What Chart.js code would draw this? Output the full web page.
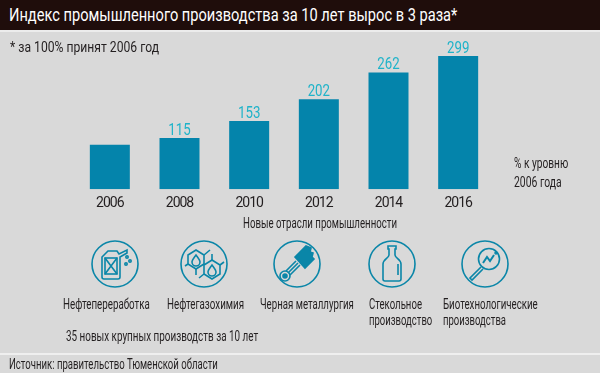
<!DOCTYPE html>
<html lang="ru">
<head>
<meta charset="utf-8">
<title>Индекс промышленного производства</title>
<script src="https://cdn.jsdelivr.net/npm/chart.js@4"></script>
<style>
html, body { margin: 0; padding: 0; }
body { position: relative; width: 600px; height: 373px; overflow: hidden; background: #d9d9d9;
       font-family: "Roboto", sans-serif; color: #231f20; }
canvas { position: absolute; left: 0; top: 0; }
.t { position: absolute; white-space: nowrap; font-size: 14.5px; line-height: 16px; transform-origin: 0 50%; }
#head { position: absolute; left: 0; top: 0; width: 600px; height: 30px; background: #1f0d0b; }
#head-line { position: absolute; left: 0; top: 30px; width: 600px; height: 2px; background: #ececec; }
#foot-line { position: absolute; left: 0; top: 353px; width: 600px; height: 2px; background: #efefef; }
#title { left: 9px; top: 5px; font-size: 18.5px; line-height: 20px; color: #fff; }
svg { position: absolute; top: 240px; width: 48px; height: 48px; fill: none; stroke: #0a86a8; stroke-width: 1.6; }
</style>
</head>
<body>
<canvas id="chart" width="600" height="373"></canvas>
<div id="head"></div>
<div id="head-line"></div>
<div id="foot-line"></div>
<div class="t" id="title" data-w="448">Индекс промышленного производства за 10 лет вырос в 3 раза*</div>
<div class="t" data-w="149" style="left:10px;top:39px;font-size:15.5px">* за 100% принят 2006 год</div>
<div class="t" data-w="54" style="left:514px;top:156px">% к уровню</div>
<div class="t" data-w="48" style="left:514px;top:175px">2006 года</div>
<div class="t" data-w="154" style="left:243px;top:216px">Новые отрасли промышленности</div>
<div class="t" data-w="87" style="left:63px;top:297px">Нефтепереработка</div>
<div class="t" data-w="77" style="left:167px;top:297px">Нефтегазохимия</div>
<div class="t" data-w="94" style="left:260px;top:297px">Черная металлургия</div>
<div class="t" data-w="53" style="left:369px;top:297px">Стекольное</div>
<div class="t" data-w="63" style="left:369px;top:313px">производство</div>
<div class="t" data-w="95" style="left:443px;top:297px">Биотехнологические</div>
<div class="t" data-w="63" style="left:443px;top:313px">производства</div>
<div class="t" data-w="192" style="left:66px;top:328px;font-size:15.5px">35 новых крупных производств за 10 лет</div>
<div class="t" data-w="209" style="left:9px;top:357px">Источник: правительство Тюменской области</div>

<svg style="left:91px" viewBox="0 0 48 48">
  <circle cx="24" cy="24" r="23"/>
  <path d="M11 17l6-6h9l2 3 8-4v3l-7 4v20a2 2 0 0 1-2 2H13a2 2 0 0 1-2-2z"/>
  <rect x="14" y="18" width="12" height="16"/>
  <path d="M14 18l12 16M26 18L14 34"/>
  <circle cx="36" cy="17" r="1.2"/><circle cx="39" cy="21" r="1.2"/><circle cx="35" cy="24" r="1.2"/>
</svg>
<svg style="left:180px" viewBox="0 0 48 48">
  <circle cx="24" cy="24" r="23"/>
  <path d="M16 10l8 5v9l-8 5-8-5v-9zM32 20l8 5v9l-8 5-8-5v-9z"/>
  <path d="M24 15l6-5M32 20v-6M40 25l4-3M8 24l-3 2M16 29v6M24 34l-5 4"/>
  <path d="M16 15c3 4 4 5 4 7a4 4 0 0 1-8 0c0-2 1-3 4-7zM32 25c3 4 4 5 4 7a4 4 0 0 1-8 0c0-2 1-3 4-7z"/>
</svg>
<svg style="left:273px" viewBox="0 0 48 48">
  <circle cx="24" cy="24" r="23"/>
  <path d="M22 17l11-11 5 2-1 4 3 1-1 4 2 2-9 9z" fill="#0a86a8"/>
  <path d="M23 21L13 31M27 25L17 35M25 23L15 33"/>
  <circle cx="12" cy="36" r="5"/><circle cx="12" cy="36" r="2" fill="#0a86a8"/>
</svg>
<svg style="left:368px" viewBox="0 0 48 48">
  <circle cx="24" cy="24" r="23"/>
  <path d="M20 6h8v3h-1v6c0 3 6 4 6 9v15a2 2 0 0 1-2 2H17a2 2 0 0 1-2-2V24c0-5 6-6 6-9V9h-1z"/>
  <path d="M30 24v11"/>
</svg>
<svg style="left:461px" viewBox="0 0 48 48">
  <circle cx="24" cy="24" r="23"/>
  <circle cx="28" cy="19" r="10.5"/>
  <path d="M20 27L9 38l2 2 11-11" />
  <path d="M22 23l4-6 3 4 4-6" stroke-width="2"/>
  <circle cx="35" cy="13" r="1"/>
</svg>

<script>
// значения читаем с картинки
const years = ["2006", "2008", "2010", "2012", "2014", "2016"];
const indexValues = [100, 115, 153, 202, 262, 299];
const valueLabels = ["", "115", "153", "202", "262", "299"];

// узкого шрифта нет, поэтому сжимаем текст до ширины из оригинала
document.querySelectorAll(".t").forEach((el) => {
    el.style.transform = `scaleX(${el.dataset.w / el.offsetWidth})`;
});

// подписи над столбцами
const barLabels = {
    id: "barLabels",
    beforeDraw(chart) {
        chart.ctx.letterSpacing = "-1px";
    },
    afterDatasetsDraw(chart) {
        const ctx = chart.ctx;
        ctx.save();
        ctx.letterSpacing = "0px";
        ctx.font = "17px Roboto";
        ctx.fillStyle = "#1fb3c9";
        ctx.textAlign = "center";
        ctx.textBaseline = "bottom";
        chart.getDatasetMeta(0).data.forEach((bar, i) => {
            ctx.save();
            ctx.translate(bar.x, bar.y + 1);
            ctx.scale(0.78, 1);
            ctx.fillText(valueLabels[i], 0, 0);
            ctx.restore();
        });
        ctx.restore();
    }
};

new Chart(document.getElementById("chart"), {
    type: "bar",
    data: {
        labels: years,
        datasets: [{
            data: indexValues,
            backgroundColor: "#0484ab",
            categoryPercentage: 1,
            barPercentage: 0.574
        }]
    },
    options: {
        responsive: false,
        animation: false,
        layout: { padding: { left: 75, right: 107, top: 40, bottom: 163 } },
        plugins: { legend: { display: false }, tooltip: { enabled: false } },
        scales: {
            y: { display: false, min: 0, max: 335 },
            x: {
                grid: { display: false },
                border: { display: false },
                ticks: {
                    color: "#231f20",
                    padding: -2,
                    font: { family: "Roboto", size: 14 }
                }
            }
        }
    },
    plugins: [barLabels]
});
</script>
</body>
</html>
